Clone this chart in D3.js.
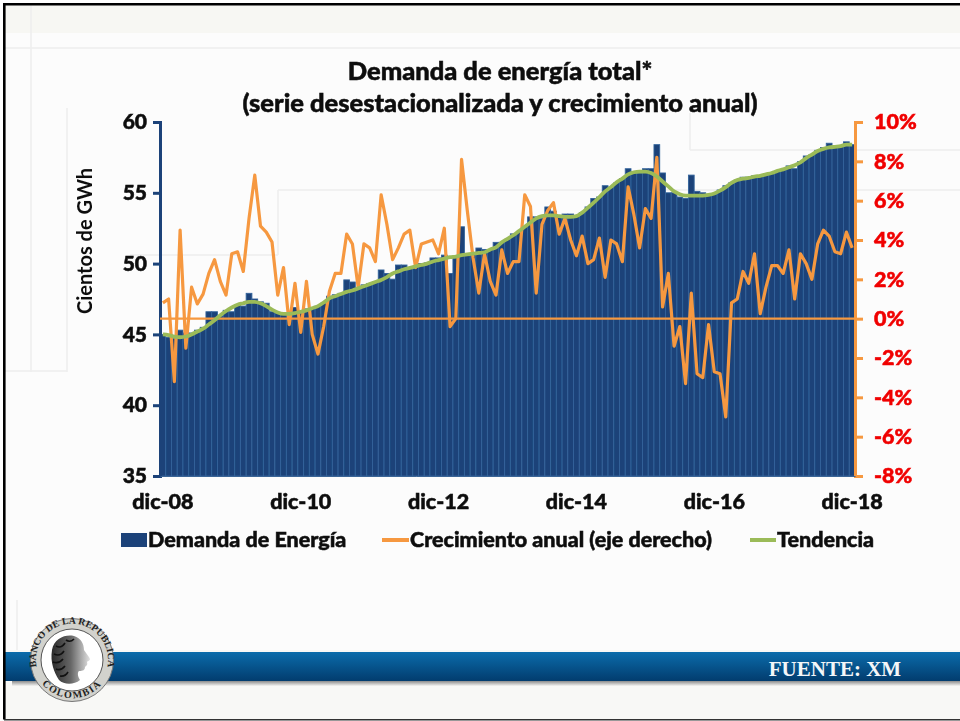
<!DOCTYPE html>
<meta charset="UTF-8">
<style>
html, body { margin: 0; padding: 0; background: #fff; }
svg { display: block; }
text { font-family: Lato, "Open Sans", sans-serif; font-weight: 700; fill: #111; }
.heavy text, text.heavy { stroke: currentColor; stroke-width: 0.55px; }
.deco { fill: none; stroke: #eeeeee; stroke-width: 1.5px; }
</style>
<body>
<div class="chart"></div>
<script src="https://d3js.org/d3.v7.min.js"></script>
<script>
// monthly, dic-08 to dic-18
var demanda = [
  45.0,44.8,44.7,45.3,45.1,45.1,45.3,45.5,46.6,46.6,46.3,46.7,46.6,47.1,47.0,47.9,47.5,47.3,47.2,46.6,
  46.5,46.4,46.4,46.9,46.5,46.8,46.8,47.0,47.2,47.7,47.8,47.9,48.85,48.7,48.3,48.5,48.6,48.7,49.55,49.3,
  48.9,49.9,49.9,49.7,49.8,50.0,50.05,50.4,50.4,50.6,49.3,50.5,52.6,50.6,50.7,51.1,51.0,51.0,51.5,51.5,
  51.7,52.1,52.2,52.6,53.3,53.3,53.2,54.0,53.7,53.3,53.5,53.5,53.4,53.6,54.0,54.6,54.7,55.5,55.4,55.7,
  56.0,56.7,56.5,56.4,56.7,56.7,58.4,56.4,55.0,55.0,54.7,54.6,56.25,55.1,55.0,54.9,54.9,55.2,55.5,55.7,
  55.9,56.1,56.1,56.2,56.2,56.3,56.4,56.5,56.6,56.9,56.7,57.2,57.6,57.7,58.0,58.2,58.5,58.3,58.3,58.6,58.4
];
var crecimiento = [
  0.8,1.0,-3.2,4.5,-1.5,1.6,0.75,1.25,2.3,3.0,1.9,1.2,3.3,3.4,2.4,5.1,7.3,4.7,4.4,3.9,
  1.2,2.6,-0.3,1.8,-0.7,1.9,-0.8,-1.8,-0.4,1.4,2.3,2.3,4.3,3.8,1.6,3.8,3.6,2.9,6.3,4.8,
  3.0,3.6,4.3,4.5,2.6,3.8,3.9,4.0,3.3,4.6,-0.4,0.0,8.1,5.5,3.1,1.3,3.3,1.9,1.2,3.5,
  2.3,2.9,2.9,6.3,5.7,1.3,4.8,5.5,5.9,4.3,5.1,4.0,3.2,4.2,2.8,3.0,4.1,2.1,4.0,3.8,
  2.9,6.7,5.3,3.6,5.6,5.1,8.2,0.6,2.3,-1.4,-0.4,-3.3,1.3,-2.8,-3.0,-0.3,-2.7,-2.8,-5.0,0.8,
  1.0,2.4,1.8,3.3,0.25,1.6,2.7,2.7,2.3,3.5,1.0,3.3,2.8,2.0,3.8,4.5,4.2,3.4,3.3,4.4,3.6
];
var tendencia = [
  45.0,44.95,44.85,44.8,44.85,45.0,45.2,45.4,45.7,46.0,46.35,46.65,46.9,47.1,47.2,47.3,47.3,47.2,47.0,46.75,
  46.55,46.45,46.45,46.5,46.6,46.7,46.85,47.0,47.25,47.55,47.7,47.85,48.0,48.1,48.25,48.4,48.55,48.7,48.85,49.05,
  49.3,49.45,49.6,49.7,49.8,49.9,50.0,50.15,50.25,50.35,50.45,50.5,50.6,50.65,50.7,50.75,50.8,51.0,51.15,51.5,
  51.75,52.0,52.3,52.6,52.9,53.2,53.35,53.4,53.4,53.35,53.3,53.3,53.35,53.6,53.95,54.3,54.7,55.1,55.4,55.75,
  56.0,56.3,56.45,56.5,56.5,56.4,56.15,55.8,55.45,55.1,54.9,54.8,54.8,54.8,54.8,54.85,54.95,55.15,55.4,55.7,
  55.9,56.0,56.05,56.15,56.2,56.3,56.4,56.55,56.65,56.8,56.95,57.15,57.45,57.7,57.95,58.1,58.2,58.25,58.3,58.4,58.4
];
var meses = d3.range(demanda.length);
var xTicks = [0, 24, 48, 72, 96, 120];
var xTickLabels = ["dic-08", "dic-10", "dic-12", "dic-14", "dic-16", "dic-18"];
var leftTicks = [35, 40, 45, 50, 55, 60];
var rightTicks = [-8, -6, -4, -2, 0, 2, 4, 6, 8, 10];
var legendLabels = ["Demanda de Energía", "Crecimiento anual (eje derecho)", "Tendencia"];

var width = 960, height = 721;
var left = 160, right = 855, top_ = 122, bottom = 476;
var azul = "#1a4379", naranja = "#f6983f", verde = "#9bbb59";

var svg = d3.select(".chart").append("svg").attr("width", width).attr("height", height);
var defs = svg.append("defs");
defs.append("filter").attr("id", "soft").append("feGaussianBlur").attr("stdDeviation", 0.6);
var band = defs.append("linearGradient").attr("id", "band").attr("x1", 0).attr("x2", 0).attr("y1", 0).attr("y2", 1);
band.append("stop").attr("offset", "0%").attr("stop-color", "#0b6cab");
band.append("stop").attr("offset", "100%").attr("stop-color", "#023c6e");
var shadow = defs.append("linearGradient").attr("id", "shadow").attr("x1", 0).attr("x2", 0).attr("y1", 0).attr("y2", 1);
shadow.append("stop").attr("offset", "0%").attr("stop-color", "#777");
shadow.append("stop").attr("offset", "100%").attr("stop-color", "#f4f4f2");

// slide background
svg.append("rect").attr("x", 5).attr("y", 5).attr("width", 955).attr("height", 714).attr("fill", "#fcfcfc");
svg.append("rect").attr("x", 5).attr("y", 5).attr("width", 955).attr("height", 28).attr("fill", "#f7f7f3");
svg.append("rect").attr("x", 5).attr("y", 650).attr("width", 955).attr("height", 69).attr("fill", "#f8f8f6");
var deco = svg.append("g");
[[5,48,960,48],[31,5,31,372],[5,371,67,371],[67,108,67,372],[278,190,278,255],[130,255,278,255],
 [278,190,960,190],[690,113,690,150],[690,150,960,150],[17,600,17,650]].forEach(function (l) {
  deco.append("line").attr("class", "deco").attr("x1", l[0]).attr("y1", l[1]).attr("x2", l[2]).attr("y2", l[3]);
});

var chart = svg.append("g").attr("filter", "url(#soft)");

var x = d3.scaleBand().domain(meses).range([left, right]);
var yLeft = d3.scaleLinear().domain([35, 60]).range([bottom, top_]);
var yRight = d3.scaleLinear().domain([-8, 10]).range([bottom, top_]);
var xMid = function (d) { return x(d) + x.bandwidth() / 2; };

chart.selectAll(".bar").data(meses).enter().append("rect")
  .attr("class", "bar")
  .attr("x", function (d) { return x(d); })
  .attr("width", x.bandwidth())
  .attr("y", function (d) { return yLeft(demanda[d]); })
  .attr("height", function (d) { return bottom - yLeft(demanda[d]); })
  .attr("fill", azul)
  .attr("stroke", "#33639b")
  .attr("stroke-width", 0.9);

// axes
var axisL = chart.append("g").attr("class", "heavy").attr("transform", "translate(" + left + ",0)")
  .call(d3.axisLeft(yLeft).tickValues(leftTicks).tickSize(7).tickPadding(6));
axisL.selectAll("path, line").attr("stroke", azul).attr("stroke-width", 3);
axisL.selectAll("text").style("font-size", "21px").style("font-weight", 900).style("fill", "#111").style("color", "#111");

var axisR = chart.append("g").attr("class", "heavy").attr("transform", "translate(" + right + ",0)")
  .call(d3.axisRight(yRight).tickValues(rightTicks).tickSize(8).tickPadding(11).tickFormat(function (d) { return d + "%"; }));
axisR.selectAll("path, line").attr("stroke", naranja).attr("stroke-width", 3);
axisR.selectAll("text").style("font-size", "21.5px").style("font-weight", 900).style("fill", "#f00000").style("color", "#f00000");

var axisB = chart.append("g").attr("class", "heavy").attr("transform", "translate(0," + bottom + ")")
  .call(d3.axisBottom(x).tickValues(xTicks).tickSize(0).tickPadding(18).tickFormat(function (d) { return xTickLabels[xTicks.indexOf(d)]; }));
axisB.select("path").attr("stroke", "#3b6596").attr("stroke-width", 1);
axisB.selectAll("text").style("font-size", "21.5px").style("font-weight", 900).style("fill", "#111").style("color", "#111");

// zero line of the right axis
chart.append("line").attr("x1", left).attr("x2", right).attr("y1", yRight(0)).attr("y2", yRight(0))
  .attr("stroke", naranja).attr("stroke-width", 2.4);

chart.append("path").datum(meses).attr("fill", "none").attr("stroke", naranja).attr("stroke-width", 3.2)
  .attr("stroke-linejoin", "round")
  .attr("d", d3.line().x(xMid).y(function (d) { return yRight(crecimiento[d]); }));
chart.append("path").datum(meses).attr("fill", "none").attr("stroke", verde).attr("stroke-width", 3.8)
  .attr("d", d3.line().x(xMid).y(function (d) { return yLeft(tendencia[d]); }).curve(d3.curveMonotoneX));

// titles
chart.append("text").attr("class", "heavy").attr("x", 500).attr("y", 80).attr("text-anchor", "middle").style("color", "#111")
  .style("font-size", "25.5px").style("font-weight", 900).text("Demanda de energía total*");
chart.append("text").attr("class", "heavy").attr("x", 500).attr("y", 112).attr("text-anchor", "middle").style("color", "#111")
  .style("font-size", "25.5px").style("font-weight", 900).text("(serie desestacionalizada y crecimiento anual)");
chart.append("text").attr("transform", "translate(92,241) rotate(-90)").attr("text-anchor", "middle")
  .style("font-size", "20px").style("font-weight", 700).text("Cientos de GWh");

// legend
var legendY = 540;
chart.append("rect").attr("x", 121).attr("y", legendY - 7).attr("width", 26).attr("height", 14).attr("fill", azul);
chart.append("line").attr("x1", 382).attr("x2", 409).attr("y1", legendY).attr("y2", legendY).attr("stroke", naranja).attr("stroke-width", 4);
chart.append("line").attr("x1", 750).attr("x2", 776).attr("y1", legendY).attr("y2", legendY).attr("stroke", verde).attr("stroke-width", 4);
[148, 410, 777].forEach(function (px, i) {
  chart.append("text").attr("class", "heavy").attr("x", px).attr("y", legendY + 7).style("color", "#111")
    .style("font-size", "21.5px").style("font-weight", 900).text(legendLabels[i]);
});

// footer band
svg.append("rect").attr("x", 12).attr("y", 680).attr("width", 948).attr("height", 6).attr("fill", "url(#shadow)");
svg.append("rect").attr("x", 5).attr("y", 652).attr("width", 955).attr("height", 29).attr("fill", "url(#band)");
svg.append("text").attr("x", 835).attr("y", 676).attr("text-anchor", "middle")
  .style("font-family", "'Liberation Serif', serif").style("font-size", "21px").style("font-weight", 700)
  .style("fill", "#f4f6f8").text("FUENTE: XM");

// logo
var logo = svg.append("g").attr("transform", "translate(72,660)");
logo.append("circle").attr("r", 41.5).attr("fill", "#d2d2cd").attr("stroke", "#777").attr("stroke-width", 1);
logo.append("circle").attr("r", 31).attr("fill", "#fff").attr("stroke", "#555").attr("stroke-width", 1);
defs.append("path").attr("id", "arcTop").attr("d", "M -34.5 10 A 36 36 0 1 1 34.5 10");
defs.append("path").attr("id", "arcBot").attr("d", "M -30 24 A 39 39 0 0 0 30 24");
logo.append("text").style("font-family", "'Liberation Serif', serif").style("font-size", "9.8px").style("fill", "#222")
  .append("textPath").attr("href", "#arcTop").attr("startOffset", "50%").attr("text-anchor", "middle").text("BANCO DE LA REPUBLICA");
logo.append("text").style("font-family", "'Liberation Serif', serif").style("font-size", "10px").style("letter-spacing", "1.5px").style("fill", "#222")
  .append("textPath").attr("href", "#arcBot").attr("startOffset", "50%").attr("text-anchor", "middle").text("COLOMBIA");
var head = defs.append("linearGradient").attr("id", "head").attr("x1", 0).attr("x2", 1).attr("y1", 0).attr("y2", 0);
head.append("stop").attr("offset", "0%").attr("stop-color", "#2a2a2a");
head.append("stop").attr("offset", "50%").attr("stop-color", "#666");
head.append("stop").attr("offset", "100%").attr("stop-color", "#e2e2e2");
logo.append("path").attr("fill", "url(#head)")
  .attr("d", "M -20 -10 C -18 -22 -6 -26 2 -24 C 9 -22 12 -16 12 -10 C 14 -7 18 -2 18 -1 C 18 1 15 1 15 2 C 16 5 14 6 13 7 C 13 10 11 11 7 11 C 5 13 6 17 8 20 C 2 25 -8 25 -13 20 C -18 12 -22 2 -20 -10 Z");
logo.append("path").attr("fill", "none").attr("stroke", "#111").attr("stroke-width", 1.6)
  .attr("d", "M -16 -14 q 5 3 9 -3 M -18 -6 q 6 3 10 -3 M -19 2 q 6 2 10 -3 M -16 9 q 5 2 9 -3 M -12 16 q 5 1 8 -4 M -6 -20 q 4 3 8 -1");

// slide border
svg.append("path").attr("fill", "none").attr("stroke", "#000").attr("stroke-width", 2.6)
  .attr("d", "M 960 4.3 H 4.3 V 719.5");
svg.append("line").attr("x1", 4).attr("x2", 960).attr("y1", 719.7).attr("y2", 719.7).attr("stroke", "#333").attr("stroke-width", 1.4);
</script>
</body>
